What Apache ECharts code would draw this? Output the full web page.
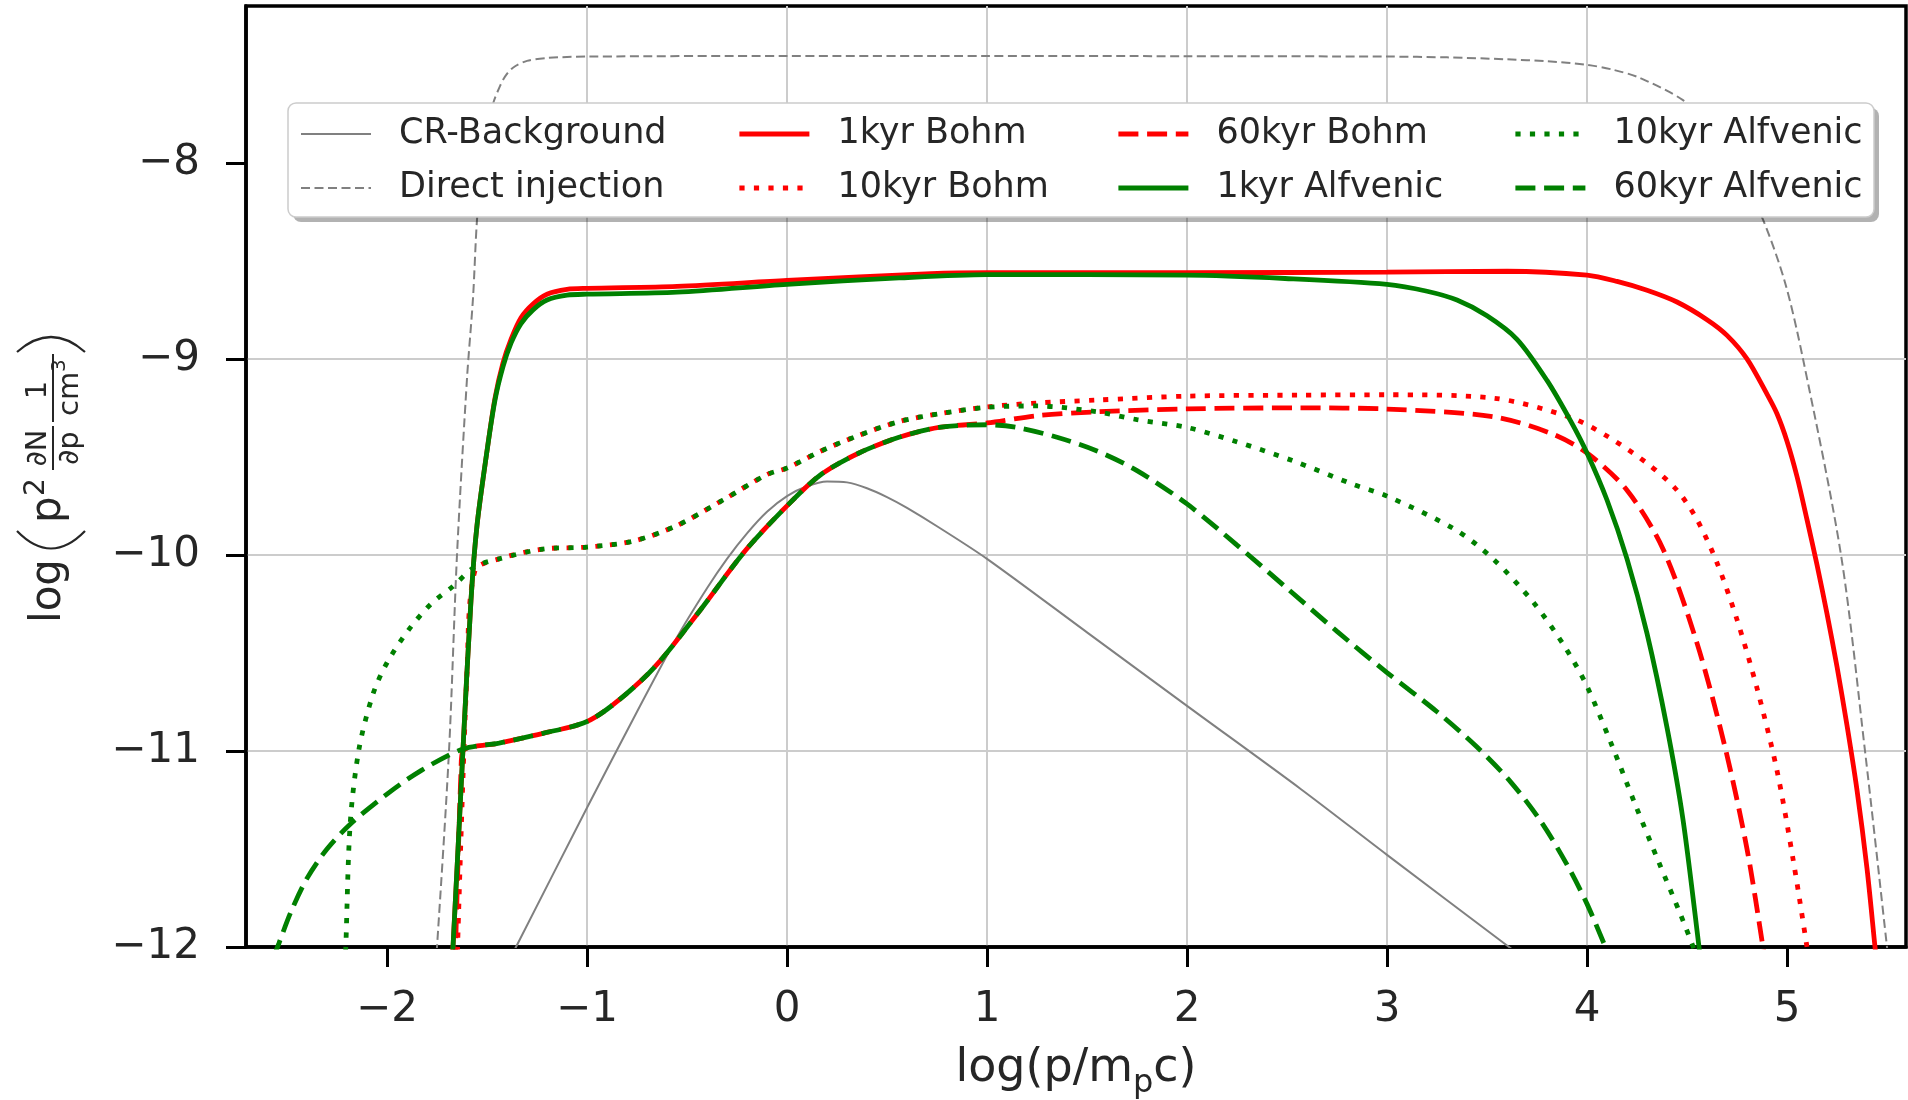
<!DOCTYPE html>
<html>
<head>
<meta charset="utf-8">
<script src="https://cdn.jsdelivr.net/npm/echarts@6/dist/echarts.min.js"></script>
<style>
html, body { margin: 0; padding: 0; background: #fff; }
#chart { width: 1908px; height: 1100px; }
</style>
</head>
<body>
<div id="chart"></div>
<script>
// axis ticks
var xTicks = [-2, -1, 0, 1, 2, 3, 4, 5];
var yTicks = [-12, -11, -10, -9, -8];

// curves: [log(p/mpc), log(p^2 dN/dp 1/cm3)]
var crBackground = [[-1.40,-12.09],[-1.355,-12.0],[-1.0,-11.29],[-0.75,-10.8],[-0.55,-10.42],[-0.4,-10.17],[-0.3,-10.02],
    [-0.2,-9.89],[-0.1,-9.78],[0,-9.70],[0.1,-9.65],[0.2,-9.625],[0.3,-9.63],[0.4,-9.66],[0.5,-9.705],[0.6,-9.76],
    [0.76,-9.86],[1.0,-10.02],[1.5,-10.395],[2.0,-10.77],[2.57,-11.195],[3.0,-11.53],[3.61,-12.0],[3.7,-12.07]];
var directInjection = [[-1.76,-12.1],[-1.75,-12.0],[-1.69,-11.0],[-1.65,-10.0],[-1.6,-9.1],[-1.57,-8.69],[-1.55,-8.29],
    [-1.52,-7.95],[-1.47,-7.70],[-1.44,-7.62],[-1.41,-7.56],[-1.37,-7.515],[-1.3,-7.48],[-1.2,-7.465],[-1.0,-7.458],
    [0,-7.455],[1,-7.455],[2,-7.456],[3.0,-7.458],[3.3,-7.462],[3.6,-7.472],[3.8,-7.482],[4.0,-7.50],[4.13,-7.525],
    [4.26,-7.565],[4.48,-7.68],[4.6,-7.8],[4.75,-8.02],[4.88,-8.29],[4.99,-8.61],[5.08,-9.0],[5.27,-10.0],
    [5.39,-11.0],[5.5,-12.0],[5.51,-12.1]];
var bohm1 = [[-1.68,-12.1],[-1.67,-12.0],[-1.62,-10.99],[-1.58,-10.23],[-1.55,-9.85],[-1.5,-9.47],[-1.46,-9.2],
    [-1.42,-9.02],[-1.38,-8.9],[-1.33,-8.79],[-1.27,-8.72],[-1.2,-8.67],[-1.1,-8.645],[-1.0,-8.64],[-0.55,-8.63],
    [0,-8.60],[0.72,-8.565],[1.0,-8.56],[2.0,-8.56],[3.0,-8.558],[3.6,-8.553],[4.0,-8.573],[4.15,-8.605],[4.3,-8.65],
    [4.45,-8.71],[4.6,-8.80],[4.7,-8.88],[4.8,-9.0],[4.9,-9.18],[4.95,-9.28],[5.0,-9.42],[5.05,-9.6],[5.1,-9.82],
    [5.15,-10.05],[5.2,-10.3],[5.25,-10.57],[5.3,-10.87],[5.35,-11.2],[5.4,-11.6],[5.44,-12.0],[5.455,-12.15]];
var bohm10 = [[-1.65,-12.1],[-1.6,-10.6],[-1.56,-10.08],[-1.44,-10.02],[-1.22,-9.97],[-1.0,-9.96],[-0.77,-9.93],
    [-0.55,-9.85],[-0.32,-9.72],[-0.1,-9.59],[0,-9.557],[0.17,-9.47],[0.36,-9.39],[0.56,-9.32],[0.76,-9.28],
    [1.0,-9.245],[1.25,-9.225],[1.55,-9.21],[2.0,-9.19],[2.56,-9.185],[3.0,-9.183],[3.53,-9.2],[3.92,-9.30],
    [4.11,-9.40],[4.31,-9.54],[4.45,-9.67],[4.55,-9.82],[4.65,-10.04],[4.75,-10.33],[4.85,-10.68],[4.95,-11.1],
    [5.03,-11.55],[5.1,-12.0],[5.115,-12.1]];
var bohm60 = [[-1.66,-12.1],[-1.63,-11.1],[-1.62,-11.0],[-1.44,-10.96],[-1.22,-10.91],[-1.0,-10.85],[-0.84,-10.74],
    [-0.66,-10.57],[-0.44,-10.29],[-0.21,-9.98],[0,-9.75],[0.17,-9.59],[0.36,-9.48],[0.56,-9.40],[0.76,-9.35],
    [1.0,-9.327],[1.25,-9.29],[1.55,-9.27],[2.0,-9.255],[2.56,-9.25],[3.0,-9.256],[3.53,-9.295],[3.82,-9.38],
    [4.0,-9.48],[4.2,-9.67],[4.38,-9.97],[4.55,-10.45],[4.69,-10.98],[4.8,-11.5],[4.88,-12.0],[4.895,-12.1]];
var alfvenic1 = [[-1.68,-12.1],[-1.67,-12.0],[-1.62,-10.99],[-1.58,-10.23],[-1.55,-9.85],[-1.5,-9.47],[-1.46,-9.21],
    [-1.42,-9.04],[-1.38,-8.92],[-1.33,-8.82],[-1.27,-8.75],[-1.2,-8.70],[-1.1,-8.675],[-1.0,-8.67],[-0.55,-8.66],
    [0,-8.62],[0.56,-8.587],[1.0,-8.57],[2.0,-8.573],[2.49,-8.59],[3.0,-8.62],[3.2,-8.655],[3.35,-8.70],[3.5,-8.78],
    [3.65,-8.9],[3.8,-9.11],[3.92,-9.32],[4.0,-9.48],[4.1,-9.72],[4.2,-10.02],[4.3,-10.4],[4.4,-10.88],[4.48,-11.35],
    [4.56,-12.0],[4.57,-12.1]];
var alfvenic10 = [[-2.21,-12.1],[-2.206,-12.0],[-2.184,-11.37],[-2.14,-10.99],[-2.07,-10.71],[-2.0,-10.55],
    [-1.89,-10.38],[-1.78,-10.25],[-1.67,-10.16],[-1.56,-10.06],[-1.44,-10.02],[-1.22,-9.97],[-1.0,-9.96],
    [-0.77,-9.93],[-0.55,-9.85],[-0.32,-9.72],[-0.1,-9.59],[0,-9.557],[0.17,-9.47],[0.36,-9.39],[0.56,-9.32],
    [0.76,-9.28],[1.0,-9.247],[1.25,-9.24],[1.55,-9.27],[1.75,-9.31],[2.0,-9.35],[2.24,-9.42],[2.53,-9.52],
    [2.83,-9.64],[3.0,-9.70],[3.34,-9.87],[3.53,-10.02],[3.73,-10.24],[3.89,-10.47],[4.0,-10.67],[4.12,-10.96],
    [4.24,-11.27],[4.36,-11.57],[4.47,-11.84],[4.55,-12.05]];
var alfvenic60 = [[-2.57,-12.06],[-2.54,-11.98],[-2.48,-11.82],[-2.4,-11.65],[-2.3,-11.5],[-2.18,-11.37],
    [-2.0,-11.22],[-1.83,-11.10],[-1.62,-10.99],[-1.44,-10.96],[-1.22,-10.91],[-1.0,-10.85],[-0.84,-10.74],
    [-0.66,-10.57],[-0.44,-10.29],[-0.21,-9.98],[0,-9.75],[0.17,-9.59],[0.36,-9.48],[0.56,-9.40],[0.76,-9.35],
    [1.0,-9.336],[1.15,-9.35],[1.35,-9.40],[1.55,-9.47],[1.75,-9.57],[2.0,-9.74],[2.25,-9.95],[2.5,-10.17],
    [2.75,-10.39],[3.0,-10.6],[3.25,-10.8],[3.45,-10.98],[3.62,-11.16],[3.77,-11.36],[3.9,-11.58],[4.0,-11.78],
    [4.1,-12.02]];

var FONT = 'DejaVu Sans';
var TXT = '#262626';
var DASH = [20, 8.7], DOT = [5.2, 9.3], THIN_DASH = [9, 4.5];

var lines = [
    { name: 'CR-Background',    data: crBackground,    color: '#808080', width: 2,   type: 'solid' },
    { name: 'Direct injection', data: directInjection, color: '#808080', width: 2,   type: THIN_DASH },
    { name: '1kyr Bohm',        data: bohm1,           color: '#ff0000', width: 4.8, type: 'solid' },
    { name: '10kyr Bohm',       data: bohm10,          color: '#ff0000', width: 4.8, type: DOT },
    { name: '60kyr Bohm',       data: bohm60,          color: '#ff0000', width: 4.8, type: DASH },
    { name: '1kyr Alfvenic',    data: alfvenic1,       color: '#008000', width: 4.8, type: 'solid' },
    { name: '10kyr Alfvenic',   data: alfvenic10,      color: '#008000', width: 4.8, type: DOT },
    { name: '60kyr Alfvenic',   data: alfvenic60,      color: '#008000', width: 4.8, type: DASH }
];

var series = lines.map(function (l) {
    return {
        name: l.name,
        type: 'line',
        data: l.data,
        symbol: 'none',
        smooth: 0.3,
        color: l.color,
        lineStyle: { color: l.color, width: l.width, type: l.type, cap: 'butt' },
        emphasis: { disabled: true },
        z: 2
    };
});

// legend columns (matplotlib ncol=4 order)
var legendCols = [
    ['CR-Background', 'Direct injection'],
    ['1kyr Bohm', '10kyr Bohm'],
    ['60kyr Bohm', '1kyr Alfvenic'],
    ['10kyr Alfvenic', '60kyr Alfvenic']
];
var legendLeft = [300, 737, 1116, 1513];

function lineByName(n) {
    for (var i = 0; i < lines.length; i++) if (lines[i].name === n) return lines[i];
}

var legends = legendCols.map(function (col, i) {
    return {
        orient: 'vertical',
        left: legendLeft[i],
        top: 114,
        padding: 0,
        itemWidth: 70,
        itemHeight: 20,
        itemGap: 14,
        selectedMode: false,
        z: 10,
        itemStyle: { opacity: 0 },
        textStyle: { fontFamily: FONT, fontSize: 35, color: TXT, lineHeight: 40, padding: [0, 0, 0, 23] },
        data: col.map(function (n) {
            var l = lineByName(n);
            return { name: n, lineStyle: { color: l.color, width: l.width, type: l.type, cap: 'butt' } };
        })
    };
});

function tickText(v) {
    return v < 0 ? '\u2212' + (-v) : String(v);
}

// text measuring for the x title
var mctx = document.createElement('canvas').getContext('2d');
function tw(t, s) {
    mctx.font = s + 'px "' + FONT + '"';
    return mctx.measureText(t).width;
}
function mid(baseline, size) { return baseline - 0.32 * size; }
function txt(t, x, base, size, align) {
    return { type: 'text', style: { text: t, x: x, y: mid(base, size), font: size + 'px "' + FONT + '"',
        fill: TXT, align: align || 'left', verticalAlign: 'middle' } };
}

var xt1 = 'log(p/m', xt2 = 'p', xt3 = 'c)';
var w1 = tw(xt1, 46), w2 = tw(xt2, 32), w3 = tw(xt3, 46);
var xs = 1076 - (w1 + w2 + w3) / 2;

var myChart = echarts.init(document.getElementById('chart'));
var option = {
    backgroundColor: '#ffffff',
    animation: false,
    grid: {
        left: 246, top: 6, right: 2, bottom: 153,
        show: true, borderColor: '#000', borderWidth: 3.5,
        containLabel: false, outerBoundsMode: 'none'
    },
    legend: legends,
    xAxis: {
        type: 'value',
        min: -2.705, max: 5.595,
        splitNumber: 8, minInterval: 1, maxInterval: 1,
        axisLine: { show: true, onZero: false, lineStyle: { color: '#000', width: 3.5 } },
        axisTick: { show: true, inside: false, length: 20, customValues: xTicks, lineStyle: { color: '#000', width: 3 } },
        axisLabel: { customValues: xTicks, formatter: tickText, margin: 42, fontFamily: FONT, fontSize: 42, color: TXT },
        splitLine: { show: true, showMinLine: false, showMaxLine: false, lineStyle: { color: '#cccccc', width: 2 } }
    },
    yAxis: {
        type: 'value',
        min: -12, max: -7.2,
        splitNumber: 5, minInterval: 1, maxInterval: 1,
        axisLine: { show: true, onZero: false, lineStyle: { color: '#000', width: 3.5 } },
        axisTick: { show: true, inside: false, length: 20, customValues: yTicks, lineStyle: { color: '#000', width: 3 } },
        axisLabel: { customValues: yTicks, formatter: tickText, margin: 46, fontFamily: FONT, fontSize: 42, color: TXT },
        splitLine: { show: true, showMinLine: false, showMaxLine: false, lineStyle: { color: '#cccccc', width: 2 } }
    },
    graphic: [
        // legend frame + shadow
        { type: 'rect', z: 3, shape: { x: 293, y: 108, width: 1586, height: 114, r: 8 },
          style: { fill: 'rgba(0,0,0,0.3)' }, silent: true },
        { type: 'rect', z: 3, shape: { x: 288, y: 103, width: 1586, height: 114, r: 8 },
          style: { fill: '#ffffff', stroke: '#cccccc', lineWidth: 1.5 }, silent: true },
        // x axis title
        { type: 'group', z: 5, silent: true, children: [
            txt(xt1, xs, 1084, 46),
            txt(xt2, xs + w1, 1094, 32),
            txt(xt3, xs + w1 + w2, 1084, 46)
        ] },
        // y axis title, rotated
        { type: 'group', z: 5, silent: true, x: 63, y: 620, rotation: Math.PI / 2, children: [
            txt('log', -3, 0, 42),
            { type: 'bezierCurve', shape: { x1: 89, y1: -46, x2: 89, y2: 22, cpx1: 54, cpy1: -12 },
              style: { stroke: TXT, lineWidth: 2.2, fill: null } },
            txt('p', 97, 0, 42),
            txt('2', 124, -17, 28),
            { type: 'line', shape: { x1: 150, y1: -10, x2: 194, y2: -10 }, style: { stroke: TXT, lineWidth: 2 } },
            txt('\u2202N', 172, -15, 29, 'center'),
            txt('\u2202p', 172, 17, 29, 'center'),
            { type: 'line', shape: { x1: 198, y1: -10, x2: 266, y2: -10 }, style: { stroke: TXT, lineWidth: 2 } },
            txt('1', 230, -15, 29, 'center'),
            txt('cm', 204, 17, 29),
            txt('3', 248, 3, 20),
            { type: 'bezierCurve', shape: { x1: 268, y1: -46, x2: 268, y2: 22, cpx1: 298, cpy1: -12 },
              style: { stroke: TXT, lineWidth: 2.2, fill: null } }
        ] }
    ],
    series: series
};
myChart.setOption(option);
</script>
</body>
</html>
